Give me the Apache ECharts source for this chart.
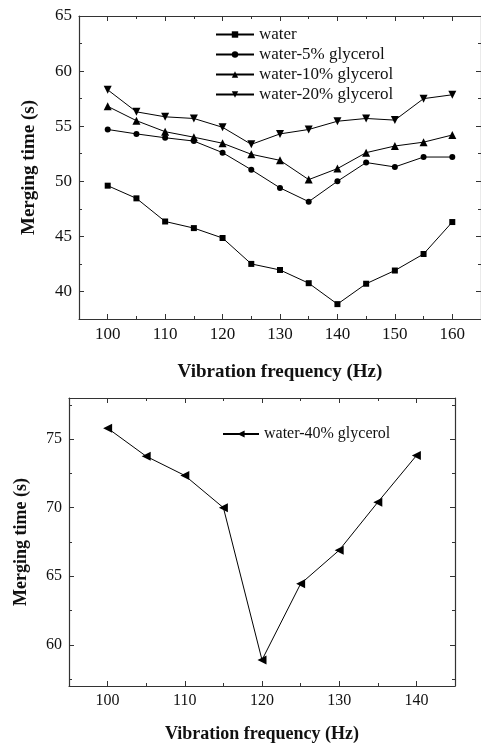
<!DOCTYPE html>
<html>
<head>
<meta charset="utf-8">
<script src="https://cdn.jsdelivr.net/npm/echarts@6/dist/echarts.min.js"></script>
<style>
html, body { margin: 0; padding: 0; background: #fff; }
#chart { width: 481px; height: 744px; }
</style>
</head>
<body>
<div id="chart"></div>
<script>
// upper panel
const freqTop = [100, 105, 110, 115, 120, 125, 130, 135, 140, 145, 150, 155, 160];
const water = [49.6, 48.45, 46.35, 45.75, 44.85, 42.5, 41.95, 40.75, 38.85, 40.7, 41.9, 43.4, 46.3];
const glycerol5 = [54.7, 54.3, 53.95, 53.65, 52.6, 51.05, 49.4, 48.15, 50.0, 51.7, 51.3, 52.2, 52.2];
const glycerol10 = [56.8, 55.5, 54.5, 54.0, 53.45, 52.45, 51.9, 50.15, 51.15, 52.6, 53.2, 53.55, 54.2];
const glycerol20 = [58.3, 56.3, 55.85, 55.7, 54.9, 53.35, 54.3, 54.7, 55.45, 55.7, 55.55, 57.5, 57.85];

// lower panel
const freqBottom = [100, 105, 110, 115, 120, 125, 130, 135, 140];
const glycerol40 = [75.8, 73.75, 72.35, 70.0, 58.9, 64.45, 66.9, 70.4, 73.8];

// tick values
const topXMajor = [100, 110, 120, 130, 140, 150, 160];
const topXMinor = [105, 115, 125, 135, 145, 155];
const topYMajor = [40, 45, 50, 55, 60, 65];
const topYMinor = [42.5, 47.5, 52.5, 57.5, 62.5];
const botXMajor = [100, 110, 120, 130, 140];
const botXMinor = [105, 115, 125, 135];
const botYMajor = [60, 65, 70, 75];
const botYMinor = [57.5, 62.5, 67.5, 72.5, 77.5];

const serif = 'Liberation Serif';
const axisColor = '#333';
const textColor = '#111';

function pairs(xs, ys) {
  return xs.map((x, i) => [x, ys[i]]);
}

// one axis of the frame; labelled axes carry text, the rest only draw ticks
function axis(gridIndex, position, min, max, ticks, len, opts) {
  opts = opts || {};
  return Object.assign({
    type: 'value',
    gridIndex,
    position,
    min,
    max,
    splitLine: { show: false },
    axisLine: { show: !!opts.line, onZero: false, lineStyle: { color: axisColor, width: 1.2 } },
    axisTick: { show: true, inside: true, length: len, customValues: ticks, lineStyle: { color: axisColor, width: 1 } },
    axisLabel: opts.labels ? {
      show: true,
      customValues: opts.labels,
      fontFamily: serif,
      fontSize: opts.fontSize || 17,
      color: textColor,
      margin: 7
    } : { show: false }
  }, opts.extra || {});
}

function title(text, size, gap, vertical) {
  const t = {
    name: text,
    nameLocation: 'middle',
    nameGap: gap,
    nameTextStyle: { fontFamily: serif, fontWeight: 'bold', fontSize: size, color: textColor }
  };
  if (vertical) t.nameRotate = 90;
  return t;
}

const xAxis = [
  axis(0, 'bottom', 95, 165, topXMajor, 5, { line: true, labels: topXMajor, extra: title('Vibration frequency (Hz)', 19, 44) }),
  axis(0, 'bottom', 95, 165, topXMinor, 3),
  axis(0, 'top', 95, 165, topXMajor, 5, { line: true }),
  axis(0, 'top', 95, 165, topXMinor, 3),
  axis(1, 'bottom', 95, 145, botXMajor, 5, { line: true, labels: botXMajor, fontSize: 16, extra: title('Vibration frequency (Hz)', 18, 39) }),
  axis(1, 'bottom', 95, 145, botXMinor, 3),
  axis(1, 'top', 95, 145, botXMajor, 5, { line: true }),
  axis(1, 'top', 95, 145, botXMinor, 3)
];

const yAxis = [
  axis(0, 'left', 37.5, 65, topYMajor, 5, { line: true, labels: topYMajor, extra: title('Merging time (s)', 19, 40, true) }),
  axis(0, 'left', 37.5, 65, topYMinor, 3),
  axis(0, 'right', 37.5, 65, topYMajor, 5, { line: true }),
  axis(0, 'right', 37.5, 65, topYMinor, 3),
  axis(1, 'left', 57, 78, botYMajor, 5, { line: true, labels: botYMajor, fontSize: 16, extra: title('Merging time (s)', 18, 39, true) }),
  axis(1, 'left', 57, 78, botYMinor, 3),
  axis(1, 'right', 57, 78, botYMajor, 5, { line: true }),
  axis(1, 'right', 57, 78, botYMinor, 3)
];

function line(name, xs, ys, symbol, size, rotate, axisIdx) {
  return {
    name,
    type: 'line',
    xAxisIndex: axisIdx,
    yAxisIndex: axisIdx,
    data: pairs(xs, ys),
    symbol,
    symbolSize: size,
    symbolRotate: rotate,
    showAllSymbol: true,
    animation: false,
    lineStyle: { color: '#000', width: 1 },
    itemStyle: { color: '#000' }
  };
}

const chart = echarts.init(document.getElementById('chart'), null, { renderer: 'canvas' });
chart.setOption({
  animation: false,
  backgroundColor: '#fff',
  grid: [
    { left: 79, top: 16, width: 407, height: 303 },
    { left: 69, top: 398, width: 386, height: 289 }
  ],
  legend: [
    {
      data: ['water', 'water-5% glycerol', 'water-10% glycerol', 'water-20% glycerol'],
      orient: 'vertical',
      left: 210,
      top: 21,
      itemWidth: 38,
      itemHeight: 8,
      itemGap: 3,
      textStyle: { fontFamily: serif, fontSize: 17, color: textColor }
    },
    {
      data: ['water-40% glycerol'],
      orient: 'vertical',
      left: 217,
      top: 421,
      itemWidth: 36,
      itemHeight: 9,
      textStyle: { fontFamily: serif, fontSize: 16, color: textColor }
    }
  ],
  xAxis,
  yAxis,
  series: [
    line('water', freqTop, water, 'rect', 6, 0, 0),
    line('water-5% glycerol', freqTop, glycerol5, 'circle', 6, 0, 0),
    line('water-10% glycerol', freqTop, glycerol10, 'triangle', 8, 0, 0),
    line('water-20% glycerol', freqTop, glycerol20, 'triangle', 8, 180, 0),
    line('water-40% glycerol', freqBottom, glycerol40, 'triangle', 9, 90, 4)
  ]
});
</script>
</body>
</html>
